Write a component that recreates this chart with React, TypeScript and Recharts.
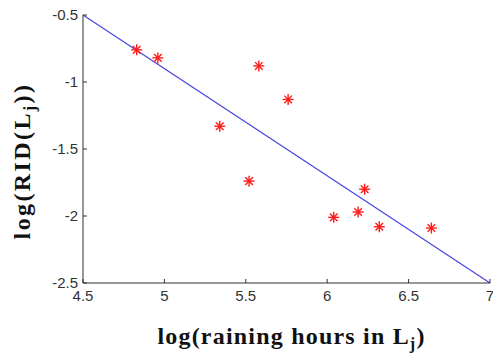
import { ScatterChart, Scatter, XAxis, YAxis, ReferenceLine, Label } from 'recharts';

const xValues = [4.83, 4.96, 5.34, 5.58, 5.76, 5.52, 6.23, 6.04, 6.19, 6.32, 6.64];
const yValues = [-0.76, -0.82, -1.33, -0.88, -1.13, -1.74, -1.8, -2.01, -1.97, -2.08, -2.09];
const xTicks = [4.5, 5, 5.5, 6, 6.5, 7];
const yTicks = [-2.5, -2, -1.5, -1, -0.5];
const fitStart = { x: 4.5, y: -0.5 };
const fitEnd = { x: 7, y: -2.5 };

const points = xValues.map((x, i) => ({ x, y: yValues[i] }));

const tickStyle = { fontSize: 15, fill: '#333', fontFamily: '"Liberation Sans", Arial, sans-serif' };
const labelFont = '"Liberation Serif", "Times New Roman", serif';

function Star(props: { cx?: number; cy?: number }) {
    const { cx = 0, cy = 0 } = props;
    const r = 5.5;
    const d = 3.8;
    return (
        <g stroke="#ff1a1a" strokeWidth={1.4}>
            <line x1={cx - r} y1={cy} x2={cx + r} y2={cy} />
            <line x1={cx} y1={cy - r} x2={cx} y2={cy + r} />
            <line x1={cx - d} y1={cy - d} x2={cx + d} y2={cy + d} />
            <line x1={cx - d} y1={cy + d} x2={cx + d} y2={cy - d} />
        </g>
    );
}

function XTitle({ viewBox }: { viewBox?: { x: number; y: number; width: number; height: number } }) {
    if (!viewBox) return null;
    const cx = viewBox.x + viewBox.width / 2 + 5;
    return (
        <text
            x={cx}
            y={344}
            textAnchor="middle"
            fontFamily={labelFont}
            fontWeight="bold"
            fontSize={24}
            letterSpacing={1.2}
            fill="#111"
        >
            log(raining hours in L
            <tspan fontSize={16} dy={5}>j</tspan>
            <tspan dy={-5}>)</tspan>
        </text>
    );
}

function YTitle() {
    const cx = 30;
    const cy = 161;
    return (
        <text
            x={cx}
            y={cy}
            transform={`rotate(-90, ${cx}, ${cy})`}
            textAnchor="middle"
            fontFamily={labelFont}
            fontWeight="bold"
            fontSize={24}
            letterSpacing={2.4}
            fill="#111"
        >
            log(RID(L
            <tspan fontSize={16} dy={5}>j</tspan>
            <tspan dy={-5}>))</tspan>
        </text>
    );
}

export default function App() {
    return (
        <div style={{ position: 'absolute', left: 0, top: 0, width: 493, height: 354, background: '#fff' }}>
            <ScatterChart width={493} height={354} margin={{ top: 15, right: 3, bottom: 41, left: 23 }}>
                <XAxis
                    type="number"
                    dataKey="x"
                    domain={[4.5, 7]}
                    ticks={xTicks}
                    interval={0}
                    allowDataOverflow
                    height={30}
                    tickSize={-4}
                    tickMargin={11}
                    stroke="#333"
                    tick={tickStyle}
                    tickFormatter={(v) => String(v)}
                >
                    <Label content={<XTitle />} />
                </XAxis>
                <YAxis
                    type="number"
                    dataKey="y"
                    domain={[-2.5, -0.5]}
                    ticks={yTicks}
                    interval={0}
                    allowDataOverflow
                    width={60}
                    tickSize={-4}
                    tickMargin={9}
                    stroke="#333"
                    tick={tickStyle}
                    tickFormatter={(v) => String(v)}
                >
                    <Label content={<YTitle />} />
                </YAxis>
                <ReferenceLine
                    segment={[fitStart, fitEnd]}
                    stroke="#4545e0"
                    strokeWidth={1.2}
                    ifOverflow="visible"
                />
                <Scatter data={points} shape={<Star />} isAnimationActive={false} />
            </ScatterChart>
        </div>
    );
}
